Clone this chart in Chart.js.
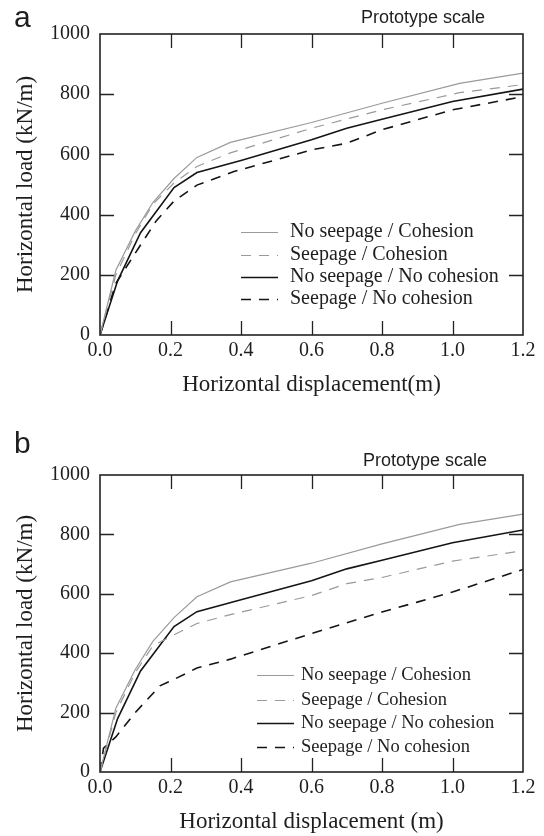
<!DOCTYPE html>
<html>
<head>
<meta charset="utf-8">
<script src="https://cdn.jsdelivr.net/npm/chart.js@4.4.1/dist/chart.umd.min.js"></script>
<style>
  html, body { margin: 0; padding: 0; background: #fff; }
  canvas { position: absolute; left: 0; }
  #chartA { top: 0; }
  #chartB { top: 418px; }
</style>
</head>
<body>
<canvas id="chartA" width="544" height="418"></canvas>
<canvas id="chartB" width="544" height="418"></canvas>
<script>
// Series labels and axis ticks
const seriesLabels = ['No seepage / Cohesion', 'Seepage / Cohesion', 'No seepage / No cohesion', 'Seepage / No cohesion'];
const xTicks = [0, 0.2, 0.4, 0.6, 0.8, 1.0, 1.2];
const yTicks = [0, 200, 400, 600, 800, 1000];

// (a) displacement (m) / load (kN/m)
const aNoSeepCohX = [0, 0.045, 0.1, 0.15, 0.21, 0.275, 0.37, 0.6, 0.8, 1.02, 1.2];
const aNoSeepCohY = [0, 215, 345, 440, 520, 590, 640, 706, 770, 836, 870];
const aSeepCohX = [0, 0.045, 0.1, 0.15, 0.21, 0.275, 0.37, 0.6, 0.8, 1.02, 1.2];
const aSeepCohY = [0, 200, 335, 435, 505, 560, 605, 687, 748, 805, 832];
const aNoSeepNoCohX = [0, 0.05, 0.115, 0.21, 0.275, 0.4, 0.6, 0.7, 0.8, 1.0, 1.2];
const aNoSeepNoCohY = [0, 180, 340, 490, 540, 580, 649, 687, 717, 776, 817];
const aSeepNoCohX = [0, 0.045, 0.11, 0.16, 0.21, 0.275, 0.38, 0.6, 0.7, 0.8, 1.0, 1.2];
const aSeepNoCohY = [0, 172, 290, 380, 445, 498, 543, 615, 637, 682, 748, 792];

// (b)
const bNoSeepCohX = [0, 0.045, 0.1, 0.15, 0.21, 0.275, 0.37, 0.6, 0.8, 1.02, 1.2];
const bNoSeepCohY = [0, 215, 345, 440, 520, 590, 640, 703, 768, 834, 868];
const bSeepCohX = [0, 0.045, 0.1, 0.15, 0.21, 0.275, 0.37, 0.6, 0.7, 0.8, 1.0, 1.2];
const bSeepCohY = [0, 200, 335, 425, 462, 500, 530, 594, 634, 655, 710, 745];
const bNoSeepNoCohX = [0, 0.05, 0.115, 0.21, 0.275, 0.4, 0.6, 0.7, 0.8, 1.0, 1.2];
const bNoSeepNoCohY = [0, 180, 340, 490, 540, 580, 644, 684, 713, 772, 815];
const bSeepNoCohX = [0, 0.01, 0.045, 0.1, 0.17, 0.21, 0.275, 0.37, 0.6, 0.8, 0.9, 1.0, 1.2];
const bSeepNoCohY = [0, 80, 118, 200, 290, 312, 350, 380, 466, 539, 572, 606, 682];

const serif = "'Liberation Serif', 'Times New Roman', serif";
const sans = "'Liberation Sans', Arial, sans-serif";
const styles = [
  { color: '#9a9a9a', width: 1.2, dash: [] },
  { color: '#9a9a9a', width: 1.2, dash: [10, 8] },
  { color: '#141414', width: 1.6, dash: [] },
  { color: '#141414', width: 1.6, dash: [10, 8] }
];

function toPoints(xs, ys) {
  return xs.map((x, i) => ({ x: x, y: ys[i] }));
}

function makeDatasets(pairs) {
  return pairs.map((p, i) => ({
    label: seriesLabels[i],
    data: toPoints(p[0], p[1]),
    showLine: true,
    borderColor: styles[i].color,
    borderWidth: styles[i].width,
    borderDash: styles[i].dash,
    pointRadius: 0,
    tension: 0,
    fill: false
  }));
}

// frame, inward ticks on all sides, in-plot legend, panel letter
const framePlugin = {
  id: 'frame',
  afterDraw(chart, args, opts) {
    const ctx = chart.ctx;
    const a = chart.chartArea;
    const xs = chart.scales.x, ys = chart.scales.y;
    ctx.save();
    ctx.strokeStyle = '#222';
    ctx.lineWidth = 1.3;
    ctx.beginPath();
    xTicks.slice(1, -1).forEach(v => {
      const px = Math.round(xs.getPixelForValue(v)) + 0.5;
      ctx.moveTo(px, a.top); ctx.lineTo(px, a.top + 14);
      ctx.moveTo(px, a.bottom); ctx.lineTo(px, a.bottom - 14);
    });
    yTicks.slice(1, -1).forEach(v => {
      const py = Math.round(ys.getPixelForValue(v)) + 0.5;
      ctx.moveTo(a.left, py); ctx.lineTo(a.left + 14, py);
      ctx.moveTo(a.right, py); ctx.lineTo(a.right - 14, py);
    });
    ctx.stroke();
    ctx.lineWidth = 1.6;
    ctx.strokeRect(a.left, a.top, a.right - a.left, a.bottom - a.top);

    // legend
    const lg = opts.legend;
    ctx.font = lg.size + 'px ' + serif;
    ctx.textBaseline = 'middle';
    ctx.textAlign = 'left';
    chart.data.datasets.forEach((ds, i) => {
      const y = lg.rows[i];
      ctx.strokeStyle = ds.borderColor;
      ctx.lineWidth = ds.borderWidth;
      ctx.setLineDash(ds.borderDash);
      ctx.beginPath();
      ctx.moveTo(lg.x0, y + 0.5); ctx.lineTo(lg.x1, y + 0.5);
      ctx.stroke();
      ctx.setLineDash([]);
      ctx.fillStyle = '#1e1e1e';
      ctx.fillText(ds.label, lg.tx, y);
    });

    // panel letter and note
    ctx.fillStyle = '#1e1e1e';
    ctx.textBaseline = 'alphabetic';
    ctx.font = '30px ' + sans;
    ctx.fillText(opts.letter, 14, opts.letterY);
    ctx.font = '18px ' + sans;
    ctx.textBaseline = 'middle';
    ctx.fillText('Prototype scale', opts.noteX, opts.noteY);
    ctx.restore();
  }
};

function makeChart(id, datasets, cfg) {
  return new Chart(document.getElementById(id), {
    type: 'scatter',
    data: { datasets: datasets },
    plugins: [framePlugin],
    options: {
      responsive: false,
      animation: false,
      layout: { padding: { top: cfg.top, right: 21, left: 0, bottom: 0 } },
      plugins: {
        legend: { display: false },
        tooltip: { enabled: false },
        frame: cfg.frame
      },
      scales: {
        x: {
          type: 'linear', min: 0, max: 1.2,
          afterFit: s => { s.height = cfg.xHeight; },
          afterBuildTicks: s => { s.ticks = xTicks.map(v => ({ value: v })); },
          grid: { display: false, drawTicks: false },
          border: { display: false },
          ticks: {
            padding: 4, color: '#1e1e1e', maxRotation: 0,
            font: { family: serif, size: 20 },
            callback: v => Number(v).toFixed(1)
          },
          title: {
            display: true, text: cfg.xTitle, color: '#1e1e1e',
            font: { family: serif, size: 23 },
            padding: { top: 0, bottom: cfg.xTitlePad }
          }
        },
        y: {
          type: 'linear', min: 0, max: 1000,
          afterFit: s => { s.width = 100; },
          afterBuildTicks: s => { s.ticks = yTicks.map(v => ({ value: v })); },
          grid: { display: false, drawTicks: false },
          border: { display: false },
          ticks: {
            padding: 10, color: '#1e1e1e',
            font: { family: serif, size: 20 },
            callback: v => String(v)
          },
          title: {
            display: true, text: 'Horizontal load (kN/m)', color: '#1e1e1e',
            font: { family: serif, size: 23 },
            padding: { top: 12, bottom: 0 }
          }
        }
      }
    }
  });
}

makeChart('chartA', makeDatasets([
  [aNoSeepCohX, aNoSeepCohY], [aSeepCohX, aSeepCohY],
  [aNoSeepNoCohX, aNoSeepNoCohY], [aSeepNoCohX, aSeepNoCohY]
]), {
  top: 34, xHeight: 83, xTitle: 'Horizontal displacement(m)', xTitlePad: 19,
  frame: {
    letter: 'a', letterY: 27, noteX: 361, noteY: 18,
    legend: { x0: 241, x1: 278, tx: 290, size: 20, rows: [232, 255, 277, 299] }
  }
});

makeChart('chartB', makeDatasets([
  [bNoSeepCohX, bNoSeepCohY], [bSeepCohX, bSeepCohY],
  [bNoSeepNoCohX, bNoSeepNoCohY], [bSeepNoCohX, bSeepNoCohY]
]), {
  top: 57, xHeight: 64, xTitle: 'Horizontal displacement (m)', xTitlePad: 0,
  frame: {
    letter: 'b', letterY: 35, noteX: 363, noteY: 43,
    legend: { x0: 257, x1: 294, tx: 301, size: 18.5, rows: [257, 282, 305, 329] }
  }
});
</script>
</body>
</html>
